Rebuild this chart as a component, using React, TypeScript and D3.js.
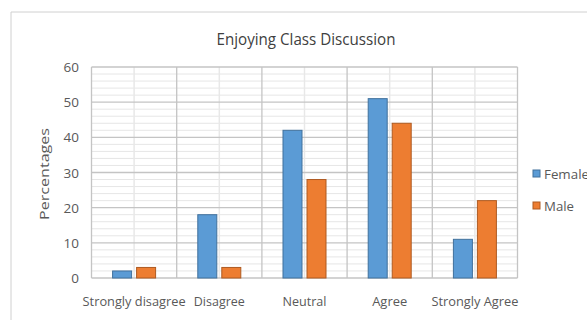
import React from "react";
import * as d3 from "d3";

const categories = ["Strongly disagree", "Disagree", "Neutral", "Agree", "Strongly Agree"];
const female = [2, 18, 42, 51, 11];
const male = [3, 3, 28, 44, 22];
const yTicks = [0, 10, 20, 30, 40, 50, 60];
const seriesNames = ["Female", "Male"];

const W = 587;
const H = 320;
const FONT = "'Open Sans', 'Liberation Sans', sans-serif";

export default function App() {
  const left = 91.5, right = 517.5, top = 67, bottom = 278;
  const x = d3.scaleBand<string>().domain(categories).range([left, right]).padding(0);
  const y = d3.scaleLinear().domain([0, 60]).range([bottom, top]);
  const minor = d3.range(0, 61, 2).filter((v) => v % 10 !== 0);
  const bw = 19;
  const gap = 5;
  const series = [
    { name: seriesNames[0], values: female, fill: "#5B9BD5", stroke: "#41719C" },
    { name: seriesNames[1], values: male, fill: "#ED7D31", stroke: "#AE5A21" },
  ];
  const labelLen: Record<string, number> = {
    "Strongly disagree": 103,
    "Disagree": 51,
    "Neutral": 44,
    "Agree": 35,
    "Strongly Agree": 87,
  };
  return (
    <svg width={W} height={H} style={{ position: "absolute", left: 0, top: 0 }}>
      <rect x={0} y={0} width={W} height={H} fill="#fff" />
      <line x1={11} y1={12} x2={W} y2={12} stroke="#d0d0d0" />
      <line x1={11} y1={12} x2={11} y2={H} stroke="#d0d0d0" />
      <text x={306} y={45} textAnchor="middle" fontFamily={FONT} fontSize={15.5} fill="#404040"
        textLength={179} lengthAdjust="spacingAndGlyphs">Enjoying Class Discussion</text>
      {minor.map((v) => (
        <line key={"m" + v} x1={left} x2={right} y1={y(v)} y2={y(v)} stroke="#e6e6e6" strokeWidth={1} />
      ))}
      {categories.map((c) => (
        <line key={"vc" + c} x1={x(c)! + x.bandwidth() / 2} x2={x(c)! + x.bandwidth() / 2} y1={top} y2={bottom} stroke="#e8e8e8" strokeWidth={1.5} />
      ))}
      {yTicks.map((v) => (
        <line key={"g" + v} x1={left} x2={right} y1={y(v)} y2={y(v)} stroke="#c4c4c4" strokeWidth={1.3} />
      ))}
      {categories.concat(["__end"]).map((c, i) => {
        const xv = left + i * x.bandwidth();
        return <line key={"vb" + i} x1={xv} x2={xv} y1={top} y2={bottom} stroke="#c4c4c4" strokeWidth={1.3} />;
      })}
      {yTicks.map((v) => (
        <text key={"t" + v} x={79} y={y(v) + 5} textAnchor="end" fontFamily={FONT} fontSize={13.5} fill="#595959">{v}</text>
      ))}
      <text transform="translate(49,174) rotate(-90)" textAnchor="middle" fontFamily={FONT} fontSize={13.5} fill="#595959"
        textLength={92} lengthAdjust="spacingAndGlyphs">Percentages</text>
      {series.map((s, si) =>
        s.values.map((v, i) => {
          const cx = x(categories[i])! + x.bandwidth() / 2;
          const bx = si === 0 ? cx - gap / 2 - bw : cx + gap / 2;
          return (
            <rect key={s.name + i} x={bx} y={y(v)} width={bw} height={bottom - y(v)} fill={s.fill} stroke={s.stroke} strokeWidth={1} />
          );
        })
      )}
      {categories.map((c) => (
        <text key={"x" + c} x={x(c)! + x.bandwidth() / 2} y={306} textAnchor="middle" fontFamily={FONT} fontSize={13.5} fill="#595959"
          textLength={labelLen[c]} lengthAdjust="spacingAndGlyphs">{c}</text>
      ))}
      {series.map((s, i) => (
        <g key={"lg" + s.name} transform={`translate(533,${170 + i * 32})`}>
          <rect x={0} y={0} width={7} height={7} fill={s.fill} stroke={s.stroke} />
          <text x={11} y={8.5} fontFamily={FONT} fontSize={13.5} fill="#595959"
            textLength={i === 0 ? 45 : 30} lengthAdjust="spacingAndGlyphs">{s.name}</text>
        </g>
      ))}
    </svg>
  );
}
